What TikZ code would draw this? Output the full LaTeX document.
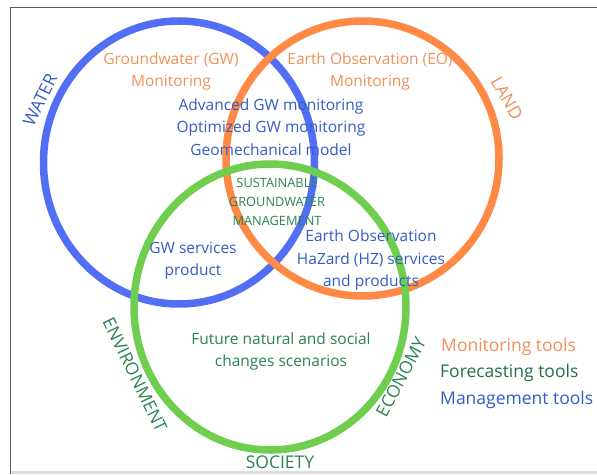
\documentclass[tikz,border=0pt]{standalone}
\usepackage{fontspec}
\setmainfont{Open Sans}
\definecolor{cblue}{RGB}{82,110,245}
\definecolor{corange}{RGB}{255,138,70}
\definecolor{cgreen}{RGB}{112,206,78}
\definecolor{tblue}{RGB}{52,92,195}
\definecolor{torange}{RGB}{240,144,90}
\definecolor{tgreen}{RGB}{42,132,82}
\definecolor{frame}{RGB}{90,90,90}
\begin{document}
\begin{tikzpicture}[x=1pt,y=1pt,
  ring/.style={line width=7.5pt},
  inner/.style={font=\fontsize{15.5}{22.5}\selectfont, align=center, inner sep=0pt},
  small/.style={font=\fontsize{12.8}{19}\selectfont, align=center, inner sep=0pt, text=tgreen},
  big/.style={font=\fontsize{17.5}{26}\selectfont, inner sep=0pt},
  legend/.style={font=\fontsize{17.5}{26}\selectfont, inner sep=0pt, anchor=west}]
\useasboundingbox (0,0) rectangle (597,474);
\fill[white] (0,0) rectangle (597,474);
% frame
\fill[black!13] (10,0) rectangle (597,3);
\draw[frame, line width=1.5pt] (10.5,0) -- (10.5,466.5) -- (597,466.5);
% rings
\draw[ring, cblue] (179,311.5) ellipse [x radius=135.5, y radius=141.5];
\draw[ring, corange] (362.5,315.5) ellipse [x radius=136.5, y radius=137.5];
\draw[ring, cgreen] (270,167) ellipse [x radius=136, y radius=143];
% circle labels
\node[big, text=tblue, rotate=64] (water) at (40,374) {WATER};
\node[big, text=torange, rotate=-60] (land) at (507,376) {LAND};
\node[big, text=tgreen, rotate=-64] (env) at (135,99) {ENVIRONMENT};
\node[big, text=tgreen, rotate=62] (eco) at (401,97) {ECONOMY};
\node[big, text=tgreen] (soc) at (280,12) {SOCIETY};
% inner texts
\node[inner, text=torange] (gwmon) at (171,402.5) {Groundwater (GW)\\Monitoring};
\node[inner, text=torange] (eomon) at (370,402.5) {Earth Observation (EO)\\Monitoring};
\node[inner, text=tblue] (adv) at (271,347) {Advanced GW monitoring\\Optimized GW monitoring\\Geomechanical model};
\node[small] (sgm) at (277,272) {SUSTAINABLE\\GROUNDWATER\\MANAGEMENT};
\node[inner, text=tblue] (gwserv) at (193,213.5) {GW services\\product};
\node[inner, text=tblue] (eohz) at (371,214) {Earth Observation\\HaZard (HZ) services\\and products};
\node[inner, text=tgreen] (future) at (281,122.5) {Future natural and social\\changes scenarios};
% legend
\node[legend, text=torange] (lmon) at (441,127) {Monitoring tools};
\node[legend, text=tgreen!85!black] (lfor) at (440,101) {Forecasting tools};
\node[legend, text=tblue] (lman) at (440,74) {Management tools};
\end{tikzpicture}
\end{document}
